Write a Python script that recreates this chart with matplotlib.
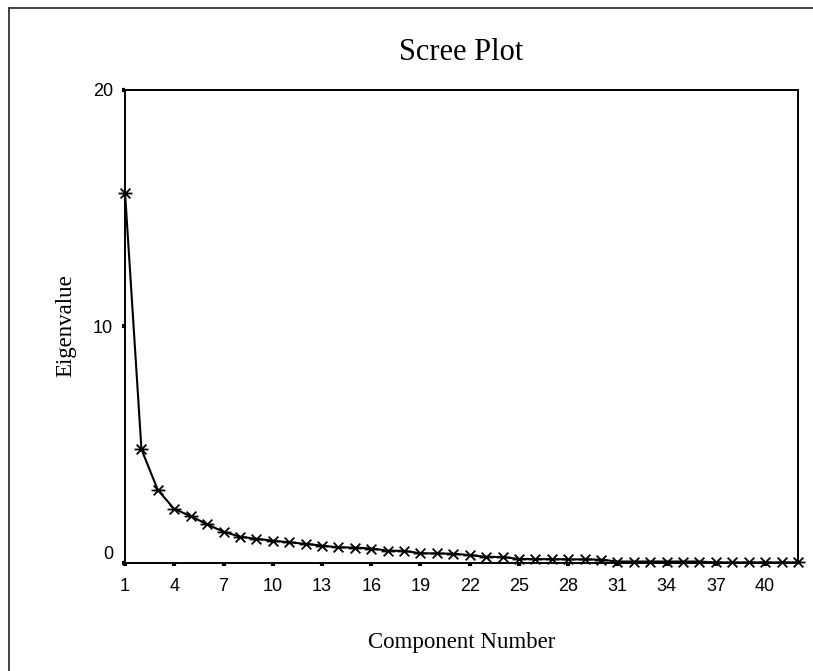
import numpy as np
import matplotlib
matplotlib.use("Agg")
import matplotlib.pyplot as plt
from matplotlib.path import Path
from matplotlib.lines import Line2D

# scree plot data
components = list(range(1, 43))
eigenvalues = [15.64, 4.79, 3.07, 2.27, 1.97, 1.62, 1.31, 1.10, 1.01, 0.93,
               0.86, 0.80, 0.72, 0.65, 0.64, 0.60, 0.51, 0.50, 0.40, 0.39,
               0.38, 0.32, 0.25, 0.24, 0.16, 0.15, 0.15, 0.14, 0.14, 0.13,
               0.05, 0.05, 0.05, 0.05, 0.05, 0.05, 0.01, 0.01, 0.01, 0.01,
               0.01, 0.01]
x_ticks = list(range(1, 41, 3))
y_ticks = [0, 10, 20]

serif = ['Liberation Serif', 'DejaVu Serif']
sans = ['Liberation Sans', 'DejaVu Sans']

# asterisk marker: horizontal bar plus an x
star = Path([(-1, 0), (1, 0), (-0.7, -0.7), (0.7, 0.7), (-0.7, 0.7), (0.7, -0.7)],
            [Path.MOVETO, Path.LINETO, Path.MOVETO, Path.LINETO, Path.MOVETO, Path.LINETO])

fig = plt.figure(figsize=(8.13, 6.71), dpi=100)
ax = fig.add_axes([0.1538, 0.1614, 0.9815 - 0.1538, 0.8666 - 0.1614])

ax.plot(components, eigenvalues, color='black', lw=1.5,
        marker=star, markersize=10, markeredgewidth=1.3, clip_on=False)

ax.set_xlim(1, 42)
ax.set_ylim(0, 20)
ax.set_xticks(x_ticks)
ax.set_yticks(y_ticks)
for lab in ax.get_xticklabels() + ax.get_yticklabels():
    lab.set_family(sans)
    lab.set_fontsize(13)
ax.tick_params(direction='out', length=2.5, width=3, color='black', pad=6)
ax.tick_params(axis='x', pad=8.5)
ax.get_yticklabels()[0].set_va('bottom')

for s in ax.spines.values():
    s.set_linewidth(1.4)
    s.set_color('black')

ax.set_title('Scree Plot', family=serif, fontsize=22, pad=21)
ax.set_ylabel('Eigenvalue', family=serif, fontsize=16.5, labelpad=12)
ax.set_xlabel('Component Number', family=serif, fontsize=16.5, labelpad=27)

# outer frame (left and top only, rest cropped)
fig.add_artist(Line2D([9 / 813, 9 / 813], [0, 1 - 8 / 671], color='#333333', lw=1.3))
fig.add_artist(Line2D([9 / 813, 1], [1 - 8 / 671, 1 - 8 / 671], color='#333333', lw=1.3))

fig.savefig('out.png', dpi=100)
